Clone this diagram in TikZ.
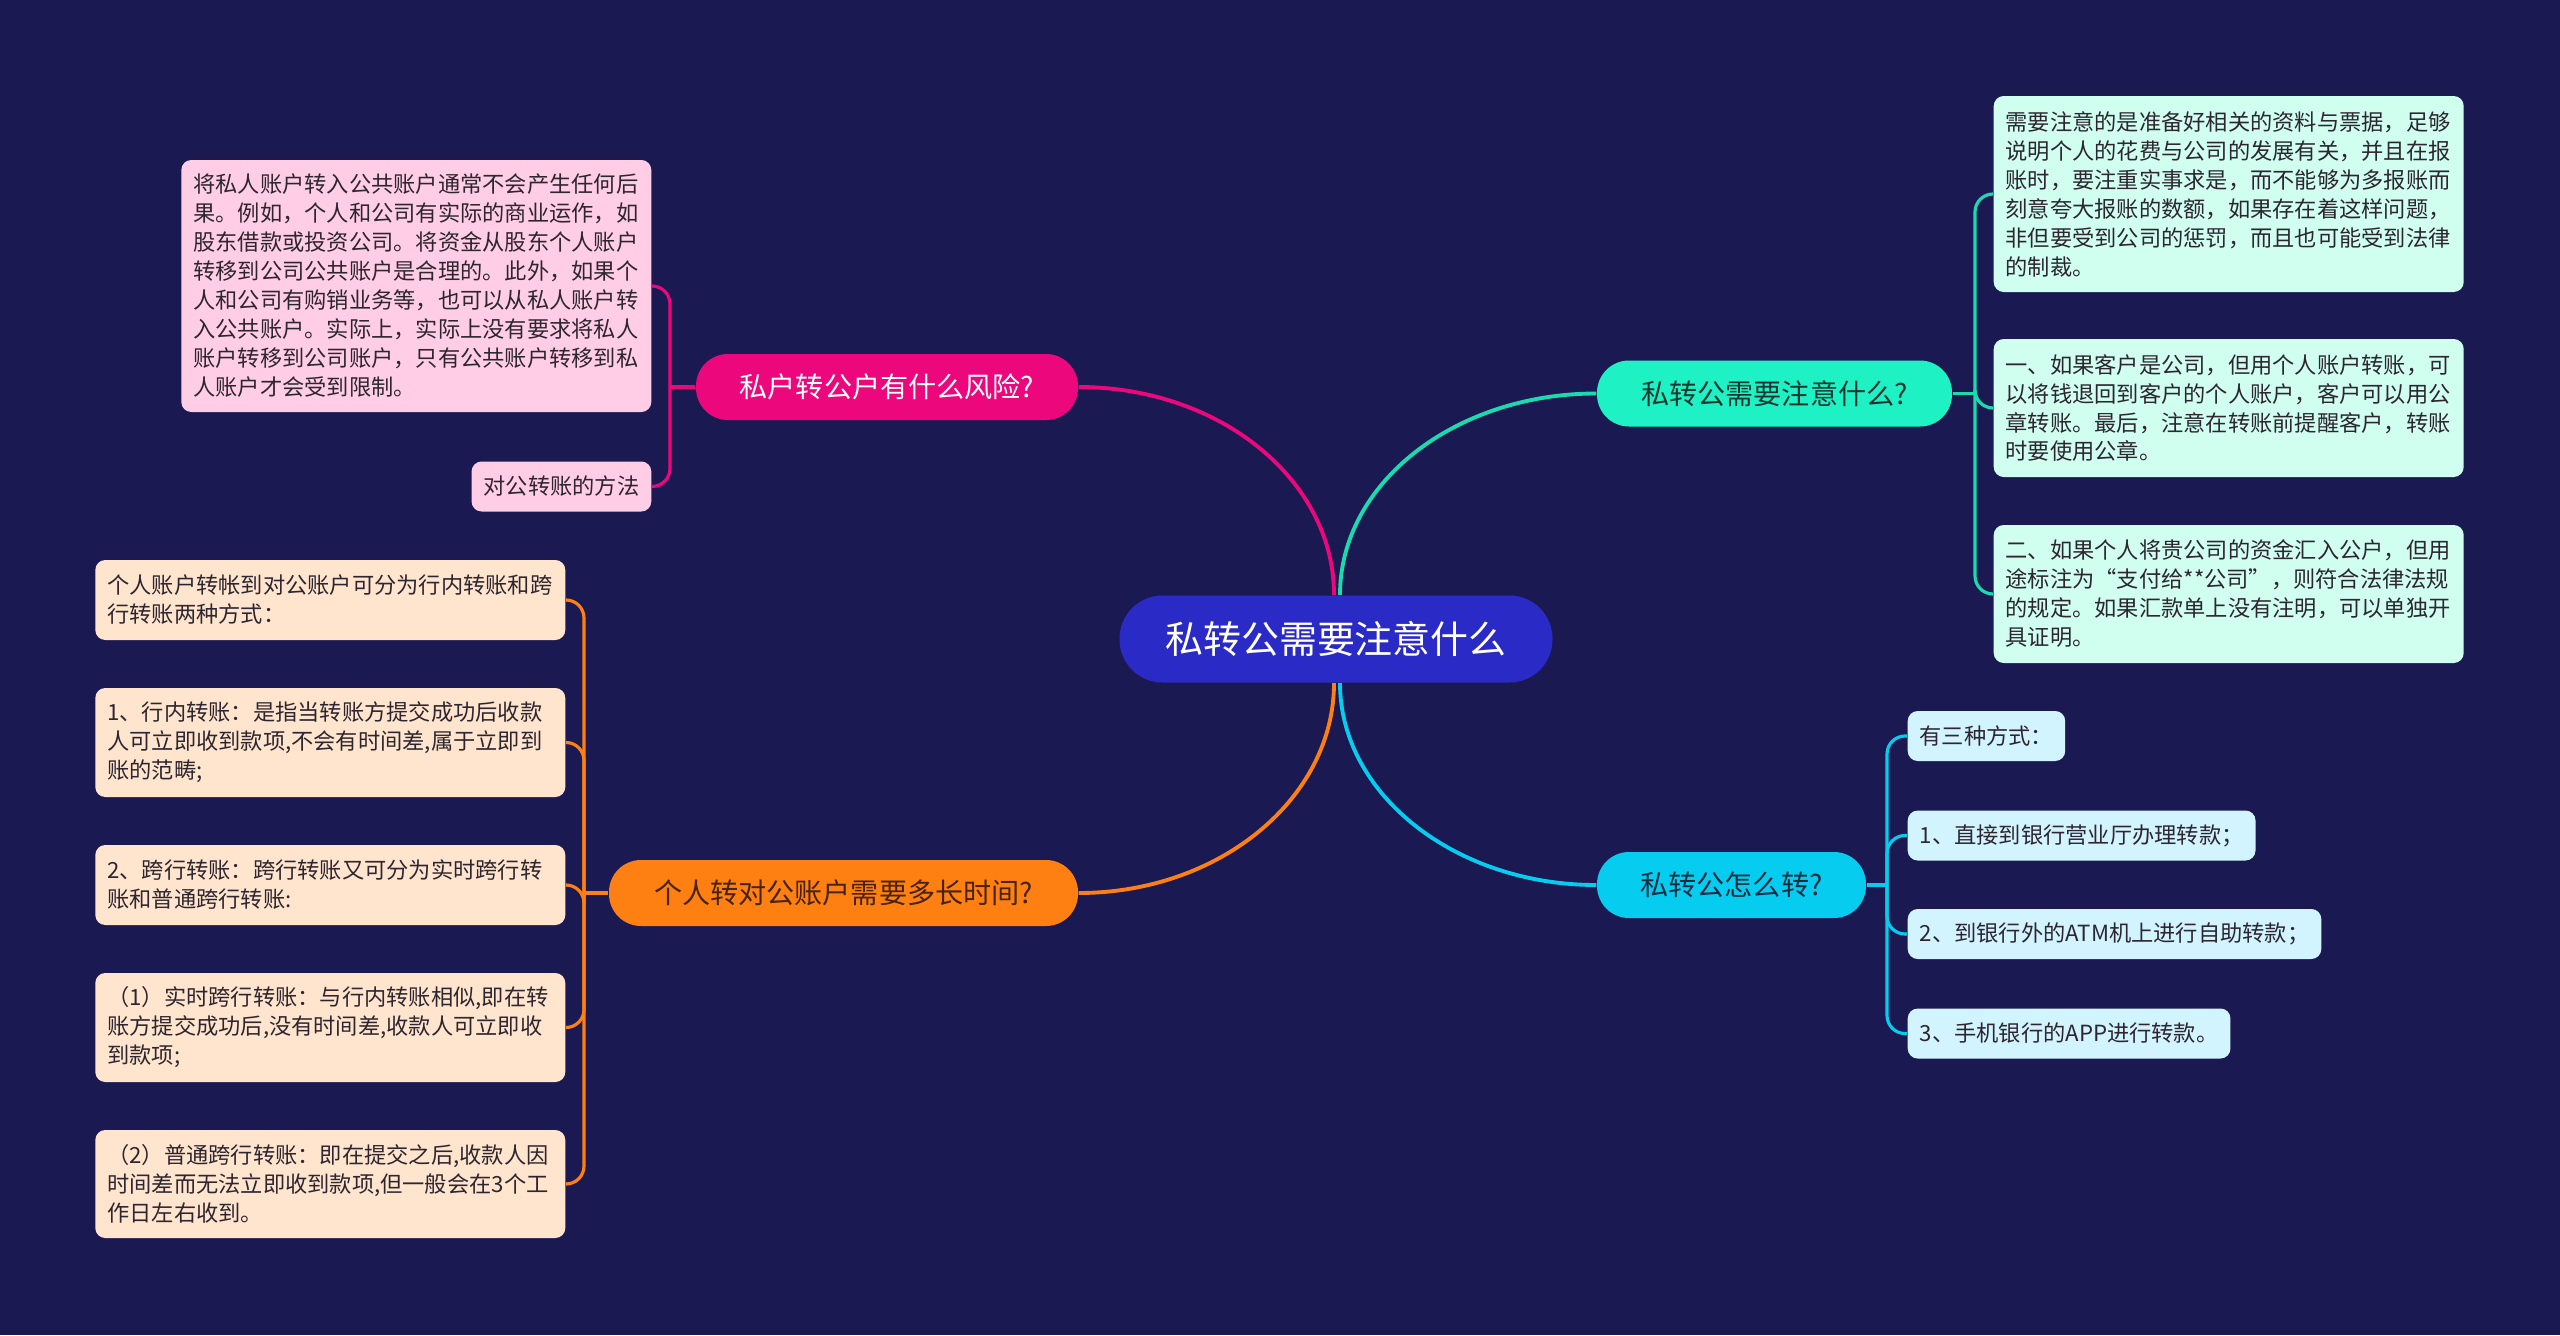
\documentclass[tikz,border=0pt]{standalone}
\usepackage{fontspec}
\setmainfont{Noto Sans CJK SC}
\usepackage{xcolor}
\usepackage{tikz}
\usetikzlibrary{positioning}
\definecolor{navybg}{RGB}{27,25,82}
\definecolor{rootblue}{RGB}{42,42,198}
\definecolor{mypink}{RGB}{236,8,124}
\definecolor{myorange}{RGB}{255,128,18}
\definecolor{myteal}{RGB}{30,242,196}
\definecolor{mycyan}{RGB}{6,204,240}
\definecolor{lightpink}{RGB}{255,206,230}
\definecolor{lightorange}{RGB}{255,229,205}
\definecolor{lightteal}{RGB}{208,255,240}
\definecolor{lightcyan}{RGB}{210,244,255}
\definecolor{leafink}{RGB}{45,38,48}
\definecolor{orangeink}{RGB}{70,35,10}
\definecolor{tealink}{RGB}{22,55,50}
\definecolor{cyanink}{RGB}{20,45,65}
\tikzset{
  rootblock/.style={rectangle, fill=rootblue, text=white, rounded corners=0.43cm,
    minimum width=4.33cm, minimum height=0.87cm, inner sep=0pt,
    font=\fontsize{10.8pt}{12pt}\selectfont},
  topic/.style={rectangle, rounded corners=0.32cm, minimum height=0.66cm,
    inner sep=0pt, font=\fontsize{8pt}{9pt}\selectfont},
  leaf/.style={rectangle, rounded corners=0.1cm, text width=4.46cm, align=left,
    inner xsep=0.12cm, inner ysep=0pt, text=leafink,
    font=\fontsize{6.33pt}{8.25pt}\selectfont},
  tag/.style={rectangle, rounded corners=0.1cm, minimum height=0.5cm,
    inner xsep=0.12cm, inner ysep=0pt, text=leafink,
    font=\fontsize{6.33pt}{8.25pt}\selectfont},
  link/.style={line width=1.1pt},
  twig/.style={line width=0.9pt, rounded corners=0.18cm}
}

\begin{document}
\begin{tikzpicture}
  % Background
  \fill[navybg] (0,0) rectangle (25.6,13.35);

  % Root
  \node[rootblock] (root) at (13.36, 6.96) {私转公需要注意什么};

  % Topics
  \node[topic, fill=mypink, text=white, minimum width=3.82cm] (risk) at (8.87, 9.48) {私户转公户有什么风险?};
  \node[topic, fill=myorange, text=orangeink, minimum width=4.69cm] (timecost) at (8.435, 4.42) {个人转对公账户需要多长时间?};
  \node[topic, fill=myteal, text=tealink, minimum width=3.55cm] (notice) at (17.745, 9.415) {私转公需要注意什么?};
  \node[topic, fill=mycyan, text=cyanink, minimum width=2.69cm] (howto) at (17.315, 4.50) {私转公怎么转?};

  % Root links
  \draw[link, mypink] ([xshift=-0.02cm]root.north) .. controls +(0,1.15) and +(1.41,0) .. (risk.east);
  \draw[link, myteal!90!black] ([xshift=0.04cm]root.north) .. controls +(0,1.12) and +(-1.41,0) .. (notice.west);
  \draw[link, myorange] ([xshift=-0.02cm]root.south) .. controls +(0,-1.15) and +(1.41,0) .. (timecost.east);
  \draw[link, mycyan] ([xshift=0.04cm]root.south) .. controls +(0,-1.11) and +(-1.41,0) .. (howto.west);

  % Risk leaves
  \node[leaf, fill=lightpink, anchor=east, minimum height=2.52cm] (risk1) at (6.52, 10.49) {将私人账户转入公共账户通常不会产生任何后\\果。例如，个人和公司有实际的商业运作，如\\股东借款或投资公司。将资金从股东个人账户\\转移到公司公共账户是合理的。此外，如果个\\人和公司有购销业务等，也可以从私人账户转\\入公共账户。实际上，实际上没有要求将私人\\账户转移到公司账户，只有公共账户转移到私\\人账户才会受到限制。};
  \node[tag, fill=lightpink, anchor=east] (risk2) at (6.52, 8.485) {对公转账的方法};
  \coordinate (riskfork) at (6.70, 9.48);
  \draw[link, mypink] (risk.west) -- (riskfork);
  \draw[twig, mypink] (riskfork) |- (risk1.east);
  \draw[twig, mypink] (riskfork) |- (risk2.east);

  % Time leaves
  \node[leaf, fill=lightorange, anchor=east, minimum height=0.80cm] (time1) at (5.66, 7.35) {个人账户转帐到对公账户可分为行内转账和跨\\行转账两种方式：};
  \node[leaf, fill=lightorange, anchor=east, minimum height=1.09cm] (time2) at (5.66, 5.925) {1、行内转账：是指当转账方提交成功后收款\\人可立即收到款项,不会有时间差,属于立即到\\账的范畴;};
  \node[leaf, fill=lightorange, anchor=east, minimum height=0.80cm] (time3) at (5.66, 4.50) {2、跨行转账：跨行转账又可分为实时跨行转\\账和普通跨行转账:};
  \node[leaf, fill=lightorange, anchor=east, minimum height=1.09cm] (time4) at (5.66, 3.075) {（1）实时跨行转账：与行内转账相似,即在转\\账方提交成功后,没有时间差,收款人可立即收\\到款项;};
  \node[leaf, fill=lightorange, anchor=east, minimum height=1.08cm] (time5) at (5.66, 1.51) {（2）普通跨行转账：即在提交之后,收款人因\\时间差而无法立即收到款项,但一般会在3个工\\作日左右收到。};
  \coordinate (timefork) at (5.84, 4.42);
  \draw[link, myorange] (timecost.west) -- (timefork);
  \draw[twig, myorange] (timefork) |- (time1.east);
  \draw[twig, myorange] (timefork) |- (time2.east);
  \draw[twig, myorange] (timefork) |- (time3.east);
  \draw[twig, myorange] (timefork) |- (time4.east);
  \draw[twig, myorange] (timefork) |- (time5.east);

  % Notice leaves
  \node[leaf, fill=lightteal, anchor=west, minimum height=1.96cm] (note1) at (19.93, 11.41) {需要注意的是准备好相关的资料与票据，足够\\说明个人的花费与公司的发展有关，并且在报\\账时，要注重实事求是，而不能够为多报账而\\刻意夸大报账的数额，如果存在着这样问题，\\非但要受到公司的惩罚，而且也可能受到法律\\的制裁。};
  \node[leaf, fill=lightteal, anchor=west, minimum height=1.38cm] (note2) at (19.93, 9.27) {一、如果客户是公司，但用个人账户转账，可\\以将钱退回到客户的个人账户，客户可以用公\\章转账。最后，注意在转账前提醒客户，转账\\时要使用公章。};
  \node[leaf, fill=lightteal, anchor=west, minimum height=1.38cm] (note3) at (19.93, 7.41) {二、如果个人将贵公司的资金汇入公户，但用\\途标注为“支付给**公司”，则符合法律法规\\的规定。如果汇款单上没有注明，可以单独开\\具证明。};
  \coordinate (notefork) at (19.75, 9.415);
  \draw[link, myteal!90!black] (notice.east) -- (notefork);
  \draw[twig, myteal!90!black] (notefork) |- (note1.west);
  \draw[twig, myteal!90!black] (notefork) |- (note2.west);
  \draw[twig, myteal!90!black] (notefork) |- (note3.west);

  % How-to leaves
  \node[tag, fill=lightcyan, anchor=west] (how1) at (19.07, 5.99) {有三种方式：};
  \node[tag, fill=lightcyan, anchor=west] (how2) at (19.07, 4.995) {1、直接到银行营业厅办理转款；};
  \node[tag, fill=lightcyan, anchor=west] (how3) at (19.07, 4.01) {2、到银行外的ATM机上进行自助转款；};
  \node[tag, fill=lightcyan, anchor=west] (how4) at (19.07, 3.015) {3、手机银行的APP进行转款。};
  \coordinate (howfork) at (18.87, 4.50);
  \draw[link, mycyan] (howto.east) -- (howfork);
  \draw[twig, mycyan] (howfork) |- (how1.west);
  \draw[twig, mycyan] (howfork) |- (how2.west);
  \draw[twig, mycyan] (howfork) |- (how3.west);
  \draw[twig, mycyan] (howfork) |- (how4.west);
\end{tikzpicture}
\end{document}
